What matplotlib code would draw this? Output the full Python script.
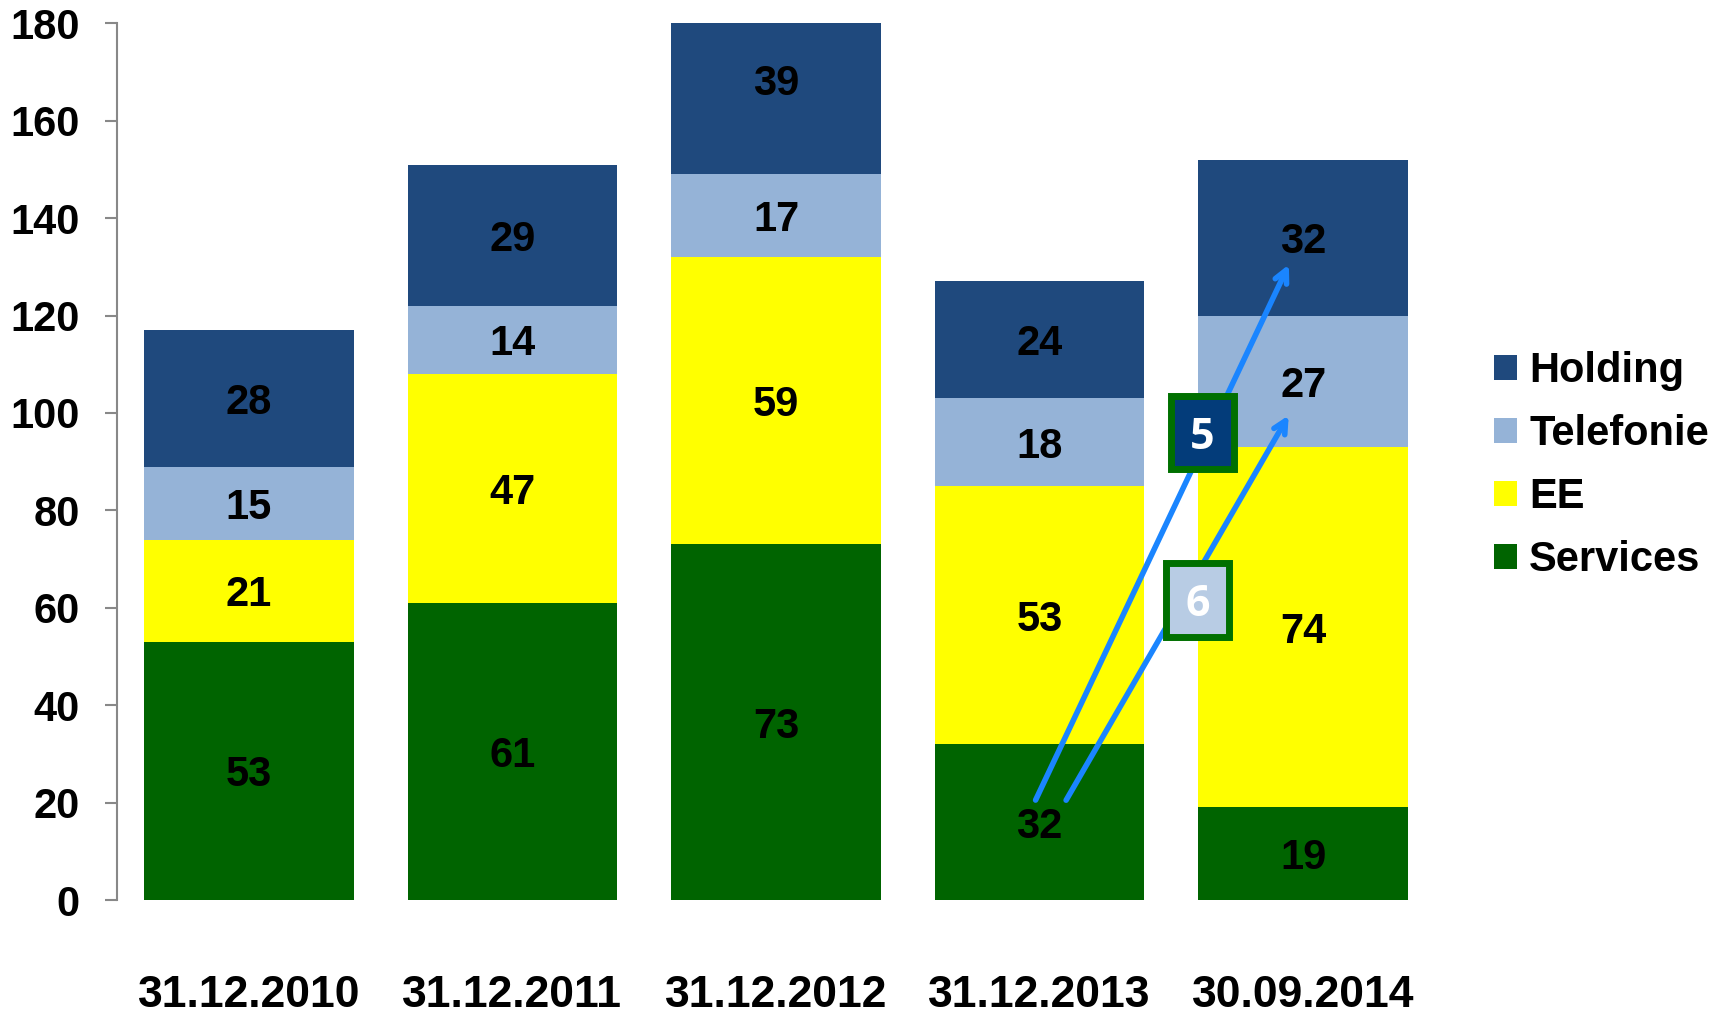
import numpy as np
import matplotlib
matplotlib.use('Agg')
import matplotlib.pyplot as plt
from matplotlib.patches import Rectangle

plt.rcParams['font.family'] = ['Liberation Sans', 'DejaVu Sans']
plt.rcParams['font.weight'] = 'bold'

# data
dates = ['31.12.2010', '31.12.2011', '31.12.2012', '31.12.2013', '30.09.2014']
services = [53, 61, 73, 32, 19]
ee = [21, 47, 59, 53, 74]
telefonie = [15, 14, 17, 18, 27]
holding = [28, 29, 39, 24, 32]

series = [('Services', services, '#006400'),
          ('EE', ee, '#FFFF00'),
          ('Telefonie', telefonie, '#95B3D7'),
          ('Holding', holding, '#1F497D')]

fig = plt.figure(figsize=(17.29, 10.14), dpi=100)
ax = fig.add_axes([0.0677, 0.1124, 0.830 - 0.0677, 0.977 - 0.1124])

x = np.arange(len(dates))
bottom = np.zeros(len(dates))
handles = []
for name, vals, col in series:
    vals = np.array(vals, dtype=float)
    b = ax.bar(x, vals, 0.795, bottom=bottom, color=col, label=name, zorder=2)
    handles.append(b)
    for xi, v, b0 in zip(x, vals, bottom):
        ax.text(xi, b0 + v / 2, f'{int(v)}', ha='center', va='center_baseline',
                fontsize=30, fontweight='bold', color='black', zorder=5)
    bottom += vals

ax.set_xlim(-0.5, 4.5)
ax.set_ylim(0, 180)
ax.set_yticks(range(0, 181, 20))
ax.set_xticks(x)
ax.set_xticklabels(dates)
ax.tick_params(axis='y', labelsize=30, length=9, width=1.5, color='#888888', pad=18)
ax.tick_params(axis='x', labelsize=32, length=0, pad=54)
for s in ['top', 'right', 'bottom']:
    ax.spines[s].set_visible(False)
ax.spines['left'].set_color('#888888')
ax.spines['left'].set_linewidth(1.5)

# arrows from 31.12.2013 services to 30.09.2014
arrow_kw = dict(arrowstyle='->,head_length=0.9,head_width=0.45', color='#1A85FF', lw=4)
ax.annotate('', xy=(3.95, 131), xytext=(2.98, 20), arrowprops=arrow_kw, zorder=6)
ax.annotate('', xy=(3.95, 100), xytext=(3.095, 20), arrowprops=arrow_kw, zorder=6)

# boxes
for (cx, cy, txt, fc) in [(3.617, 95.9, '5', '#033C7A'), (3.60, 61.6, '6', '#B8CCE4')]:
    w, h = 0.24, 15.0
    ax.add_patch(Rectangle((cx - w / 2, cy - h / 2), w, h, facecolor=fc,
                           edgecolor='#007000', lw=5, zorder=7))
    ax.text(cx, cy, txt, ha='center', va='center_baseline', color='white', fontsize=31,
            fontweight='bold', family=['Open Sans', 'DejaVu Sans'], zorder=8)

leg = fig.legend(handles[::-1], [s[0] for s in series][::-1], loc='center left',
                 bbox_to_anchor=(0.864, 0.541), frameon=False, fontsize=30,
                 handlelength=0.55, handleheight=0.55, handletextpad=0.3,
                 labelspacing=0.55, borderpad=0, borderaxespad=0)

fig.savefig('out.png', dpi=100)
